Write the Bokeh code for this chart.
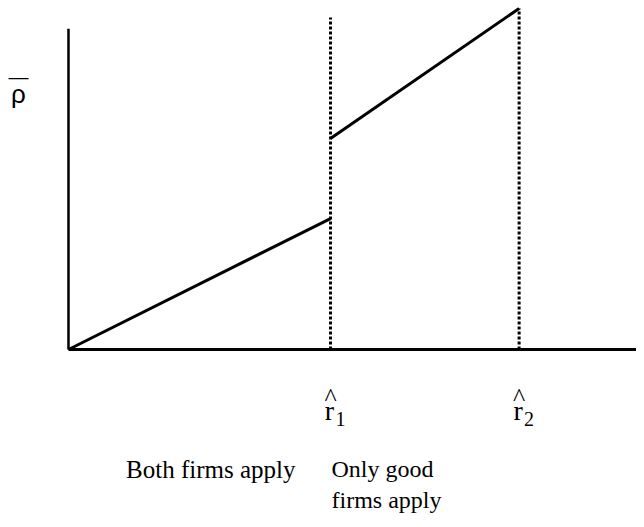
from bokeh.plotting import figure
from bokeh.models import Range1d
from bokeh.core.properties import value
from bokeh.embed import file_html
from bokeh.resources import INLINE

# ---- data ----
r_hat = [1.0, 1.72]            # thresholds r^1, r^2 on the x axis
r_subs = ["1", "2"]
low_x = [0.0, 1.0]             # rho-bar when both firms apply
low_y = [0.0, 0.384]
high_x = [1.0, 1.72]           # rho-bar when only good firms apply
high_y = [0.619, 1.0]
dotted_top = [0.974, 1.0]
x_axis_end = 2.2
y_axis_top = 0.941
region_labels = ["Both firms apply", "Only good\nfirms apply"]
y_label = "\u03c1"

p = figure(width=636, height=519, output_backend="svg", toolbar_location=None,
           x_range=Range1d(-0.2595, 2.168), y_range=Range1d(-0.4985, 1.0235),
           min_border=0, min_border_left=0, min_border_right=0,
           min_border_top=0, min_border_bottom=0)
p.xaxis.visible = False
p.yaxis.visible = False
p.xgrid.visible = False
p.ygrid.visible = False
p.outline_line_color = None
p.background_fill_color = "white"
p.border_fill_color = "white"

# axes
p.segment(x0=[0, 0], y0=[0, 0], x1=[x_axis_end, 0], y1=[0, y_axis_top],
          line_color="black", line_width=[3, 2.5])

# dotted threshold lines
p.segment(x0=r_hat, y0=[0, 0], x1=r_hat, y1=dotted_top,
          line_color="black", line_width=3, line_dash="3 2")

# rho-bar schedule
p.line(low_x, low_y, line_color="black", line_width=3)
p.line(high_x, high_y, line_color="black", line_width=3)

serif = value("Liberation Serif")
sans = value("Liberation Sans")

# y label: rho with overline
p.text(x=[0], y=[y_axis_top], text=[y_label], x_offset=-50, y_offset=65,
       text_font=sans, text_font_size="26px", text_align="center",
       text_baseline="alphabetic", text_color="black")
p.text(x=[0], y=[y_axis_top], text=["\u2014"], x_offset=-50, y_offset=48,
       text_font=sans, text_font_size="20px", text_align="center",
       text_baseline="alphabetic", text_color="black")

# r-hat labels
zeros = [0] * len(r_hat)
p.text(x=r_hat, y=zeros, text=["^"] * len(r_hat), x_offset=0, y_offset=48,
       text_font=serif, text_font_size="26px", text_align="center",
       text_baseline="alphabetic", text_color="black")
p.text(x=r_hat, y=zeros, text=["r"] * len(r_hat), x_offset=-1, y_offset=61,
       text_font=serif, text_font_size="28px", text_align="center",
       text_baseline="alphabetic", text_color="black")
p.text(x=r_hat, y=zeros, text=r_subs, x_offset=5, y_offset=69,
       text_font=serif, text_font_size="20px", text_align="left",
       text_baseline="alphabetic", text_color="black")

# region labels
p.text(x=[r_hat[0]], y=[0], text=[region_labels[0]], x_offset=-35, y_offset=120,
       text_font=serif, text_font_size="25px", text_align="right",
       text_baseline="alphabetic", text_color="black")
p.text(x=[r_hat[0]], y=[0], text=[region_labels[1]], x_offset=1, y_offset=135,
       text_font=serif, text_font_size="24px", text_align="left",
       text_baseline="alphabetic", text_color="black", text_line_height=1.2)

open("out.html", "w").write(file_html(p, INLINE))
